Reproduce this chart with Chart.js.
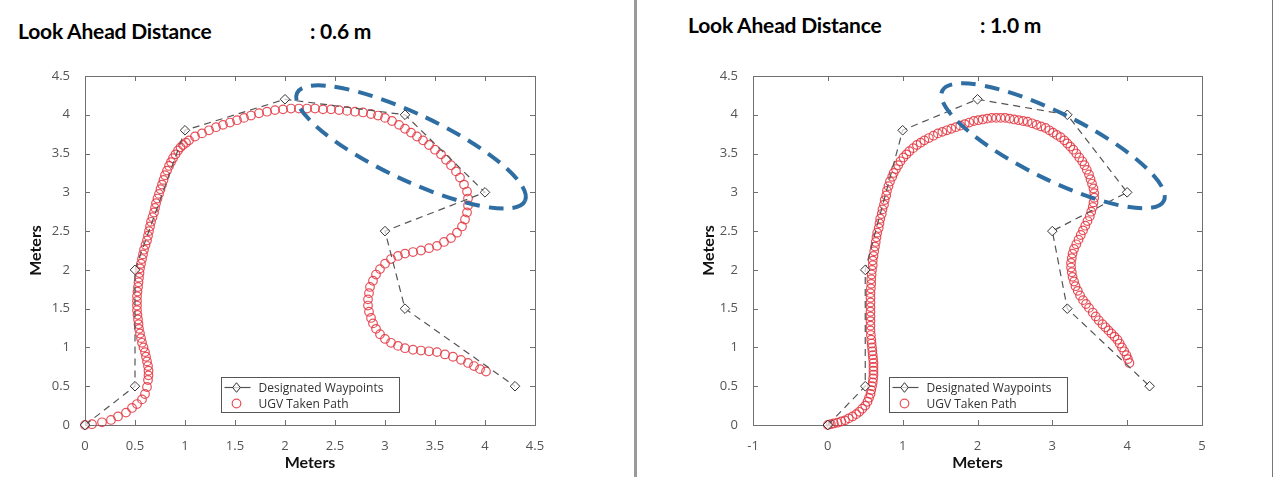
<!DOCTYPE html>
<html>
<head>
<meta charset="utf-8">
<script src="https://cdn.jsdelivr.net/npm/chart.js@4.4.1/dist/chart.umd.min.js"></script>
<style>
  body { margin: 0; background: #fff; width: 1279px; height: 477px; position: relative; overflow: hidden; }
  .title { position: absolute; font-family: Lato, 'Open Sans', sans-serif; font-weight: 700; font-size: 21px; color: #000; white-space: pre; line-height: 24px; letter-spacing: -0.2px; }
  canvas { position: absolute; top: 0; }
  .sep { position: absolute; top: 0; height: 477px; }
</style>
</head>
<body>
<div class="title" style="left:18px;top:19px">Look Ahead Distance</div>
<div class="title" style="left:310px;top:19px">: 0.6 m</div>
<div class="title" style="left:688px;top:13px">Look Ahead Distance</div>
<div class="title" style="left:980px;top:13px">: 1.0 m</div>

<canvas id="chartA" width="634" height="477" style="left:0"></canvas>
<canvas id="chartB" width="634" height="477" style="left:638px"></canvas>
<div class="sep" style="left:634px;width:3px;background:#9a9a9a"></div>
<div class="sep" style="left:1272px;width:1px;background:#777"></div>

<script>
// designated waypoints (same for both runs)
const waypointsX = [0, 0.5, 0.5, 1, 2, 3.2, 4, 3, 3.2, 4.3];
const waypointsY = [0, 0.5, 2, 3.8, 4.2, 4, 3, 2.5, 1.5, 0.5];

// UGV taken path, look ahead 0.6 m
const pathAX = [0, 0.07, 0.17, 0.26, 0.33, 0.41, 0.47, 0.52, 0.57, 0.60, 0.62,
  0.63, 0.635, 0.635, 0.63, 0.62, 0.61, 0.60, 0.585, 0.57, 0.56, 0.55, 0.54, 0.535, 0.53, 0.525, 0.52, 0.52, 0.52, 0.52,
  0.525, 0.53, 0.535, 0.54, 0.545, 0.55, 0.56, 0.57, 0.58, 0.59, 0.605, 0.62, 0.63, 0.64, 0.65, 0.66, 0.675, 0.69, 0.70,
  0.71, 0.725, 0.74, 0.755, 0.77, 0.785, 0.80, 0.82, 0.84, 0.86, 0.88, 0.905, 0.93, 0.955, 0.98, 1.01, 1.04,
  1.10, 1.17, 1.24, 1.31, 1.38, 1.45, 1.52, 1.59, 1.66, 1.74, 1.82, 1.90, 1.98, 2.06, 2.14, 2.22, 2.30, 2.38, 2.46,
  2.54, 2.62, 2.70, 2.78, 2.86, 2.93, 3.00, 3.07, 3.14, 3.20, 3.26, 3.32, 3.38, 3.44, 3.50, 3.56, 3.61, 3.66, 3.71,
  3.75, 3.79, 3.82, 3.83, 3.83, 3.82, 3.80, 3.77, 3.72, 3.66, 3.59, 3.52, 3.44, 3.36, 3.28, 3.20, 3.13, 3.06, 3.00,
  2.95, 2.91, 2.88, 2.85, 2.84, 2.83, 2.83, 2.84, 2.86, 2.88, 2.91, 2.95, 3.00, 3.06, 3.13, 3.20, 3.28, 3.36, 3.44,
  3.52, 3.60, 3.68, 3.76, 3.83, 3.89, 3.95, 4.01];
const pathAY = [0, 0.01, 0.035, 0.065, 0.11, 0.16, 0.22, 0.27, 0.33, 0.40, 0.49,
  0.58, 0.64, 0.70, 0.76, 0.82, 0.88, 0.94, 1.00, 1.06, 1.12, 1.18, 1.24, 1.30, 1.36, 1.42, 1.48, 1.54, 1.60, 1.66,
  1.72, 1.78, 1.84, 1.90, 1.96, 2.02, 2.08, 2.14, 2.20, 2.26, 2.32, 2.38, 2.44, 2.50, 2.56, 2.62, 2.68, 2.74, 2.80,
  2.86, 2.92, 2.98, 3.04, 3.10, 3.16, 3.22, 3.28, 3.34, 3.39, 3.44, 3.49, 3.54, 3.58, 3.61, 3.64, 3.67,
  3.72, 3.76, 3.80, 3.84, 3.87, 3.90, 3.93, 3.96, 3.99, 4.02, 4.04, 4.06, 4.07, 4.08, 4.08, 4.08, 4.08, 4.07, 4.07,
  4.06, 4.05, 4.04, 4.03, 4.01, 3.99, 3.96, 3.92, 3.87, 3.82, 3.77, 3.72, 3.67, 3.61, 3.55, 3.49, 3.42, 3.35, 3.27,
  3.19, 3.10, 3.01, 2.92, 2.83, 2.74, 2.65, 2.56, 2.48, 2.41, 2.36, 2.31, 2.28, 2.25, 2.23, 2.21, 2.18, 2.14, 2.08,
  2.01, 1.94, 1.86, 1.78, 1.70, 1.62, 1.54, 1.46, 1.38, 1.31, 1.24, 1.17, 1.11, 1.06, 1.02, 0.99, 0.97, 0.96, 0.95,
  0.94, 0.91, 0.88, 0.84, 0.80, 0.76, 0.72, 0.69];

// UGV taken path, look ahead 1.0 m
const pathBX = [0.00, 0.04, 0.08, 0.13, 0.18, 0.23, 0.28, 0.33, 0.38, 0.42, 0.46, 0.50, 0.53, 0.55, 0.57, 0.58, 0.59,
  0.60, 0.605, 0.61, 0.61, 0.61, 0.61, 0.605, 0.60, 0.595, 0.59, 0.585, 0.58, 0.575, 0.57, 0.57, 0.57, 0.57, 0.57,
  0.57, 0.57, 0.57, 0.57, 0.575, 0.58, 0.58, 0.585, 0.59, 0.60, 0.60, 0.61, 0.62, 0.63, 0.64, 0.65, 0.66, 0.68, 0.69,
  0.70, 0.72, 0.73, 0.75, 0.76, 0.78, 0.79, 0.81, 0.83, 0.86, 0.88, 0.91, 0.94, 0.97, 1.01, 1.05, 1.09, 1.14, 1.19,
  1.24, 1.29, 1.35, 1.41, 1.47, 1.53, 1.59, 1.65, 1.71, 1.77, 1.83, 1.89, 1.95, 2.01, 2.07, 2.13, 2.19, 2.25, 2.31,
  2.37, 2.43, 2.49, 2.55, 2.61, 2.67, 2.73, 2.79, 2.85, 2.91, 2.96, 3.01, 3.06, 3.11, 3.16, 3.20, 3.24, 3.28, 3.32,
  3.36, 3.40, 3.43, 3.46, 3.49, 3.51, 3.53, 3.55, 3.56, 3.56, 3.55, 3.54, 3.52, 3.50, 3.47, 3.44, 3.41, 3.38, 3.35,
  3.32, 3.29, 3.27, 3.26, 3.25, 3.25, 3.26, 3.27, 3.29, 3.31, 3.34, 3.37, 3.41, 3.45, 3.49, 3.54, 3.58, 3.62, 3.67,
  3.71, 3.75, 3.79, 3.83, 3.87, 3.90, 3.93, 3.96, 3.99, 4.01, 4.03];
const pathBY = [0.00, 0.01, 0.02, 0.03, 0.045, 0.06, 0.085, 0.11, 0.14, 0.17, 0.21, 0.25, 0.30, 0.35, 0.40, 0.45, 0.50,
  0.55, 0.60, 0.65, 0.70, 0.75, 0.80, 0.85, 0.90, 0.95, 1.00, 1.05, 1.10, 1.16, 1.22, 1.28, 1.34, 1.40, 1.46,
  1.52, 1.58, 1.64, 1.70, 1.76, 1.82, 1.88, 1.94, 2.00, 2.06, 2.12, 2.18, 2.24, 2.30, 2.36, 2.42, 2.48, 2.54, 2.60,
  2.66, 2.72, 2.78, 2.84, 2.90, 2.96, 3.02, 3.08, 3.14, 3.20, 3.25, 3.30, 3.35, 3.40, 3.45, 3.49, 3.53, 3.57, 3.61,
  3.64, 3.67, 3.70, 3.73, 3.76, 3.78, 3.80, 3.82, 3.84, 3.86, 3.88, 3.90, 3.92, 3.93, 3.94, 3.95, 3.96, 3.96, 3.96,
  3.96, 3.95, 3.94, 3.93, 3.92, 3.91, 3.89, 3.87, 3.85, 3.83, 3.80, 3.77, 3.74, 3.71, 3.67, 3.63, 3.59, 3.55, 3.50,
  3.45, 3.40, 3.35, 3.29, 3.23, 3.17, 3.11, 3.05, 2.99, 2.93, 2.87, 2.81, 2.75, 2.69, 2.63, 2.57, 2.51, 2.45, 2.39,
  2.33, 2.27, 2.21, 2.15, 2.09, 2.03, 1.97, 1.91, 1.85, 1.79, 1.73, 1.67, 1.61, 1.56, 1.51, 1.45, 1.40, 1.35, 1.30,
  1.26, 1.22, 1.18, 1.14, 1.10, 1.05, 1.00, 0.95, 0.90, 0.85, 0.80];

// axis ranges
const xRangeA = [0, 4.5, 0.5];
const xRangeB = [-1, 5, 1];
const yRange = [0, 4.5, 0.5];

// highlighted region (major axis end points, x1 y1 x2 y2)
const highlightA = [2.12, 4.28, 4.40, 2.89];
const highlightB = [1.53, 4.31, 4.49, 2.89];

const toPts = (xs, ys) => xs.map((x, i) => ({ x, y: ys[i] }));

// MATLAB style box with inward ticks
const boxTicks = {
  id: 'boxTicks',
  beforeDatasetsDraw(chart) {
    const { ctx, chartArea: a, scales } = chart;
    const L = 5;
    ctx.save();
    ctx.strokeStyle = '#707070';
    ctx.lineWidth = 1;
    ctx.strokeRect(Math.round(a.left) + 0.5, Math.round(a.top) + 0.5, Math.round(a.width), Math.round(a.height));
    ctx.beginPath();
    scales.x.ticks.forEach(t => {
      const p = Math.round(scales.x.getPixelForValue(t.value)) + 0.5;
      ctx.moveTo(p, a.bottom); ctx.lineTo(p, a.bottom - L);
      ctx.moveTo(p, a.top); ctx.lineTo(p, a.top + L);
    });
    scales.y.ticks.forEach(t => {
      const p = Math.round(scales.y.getPixelForValue(t.value)) + 0.5;
      ctx.moveTo(a.left, p); ctx.lineTo(a.left + L, p);
      ctx.moveTo(a.right, p); ctx.lineTo(a.right - L, p);
    });
    ctx.stroke();
    ctx.restore();
  }
};

// dashed blue ellipse around the corner region
const highlight = {
  id: 'highlight',
  afterDatasetsDraw(chart, args, o) {
    if (!o.axis) return;
    const { ctx, scales } = chart;
    const [x1, y1, x2, y2] = o.axis;
    const p1x = scales.x.getPixelForValue(x1), p1y = scales.y.getPixelForValue(y1);
    const p2x = scales.x.getPixelForValue(x2), p2y = scales.y.getPixelForValue(y2);
    const rx = Math.hypot(p2x - p1x, p2y - p1y) / 2;
    const rot = Math.atan2(p2y - p1y, p2x - p1x);
    ctx.save();
    ctx.strokeStyle = '#2f6ea3';
    ctx.lineWidth = 4;
    ctx.setLineDash([15, 9]);
    ctx.beginPath();
    ctx.ellipse((p1x + p2x) / 2, (p1y + p2y) / 2, rx, o.halfWidth, rot, 0, Math.PI * 2);
    ctx.stroke();
    ctx.restore();
  }
};

// legend box inside the plot
const boxLegend = {
  id: 'boxLegend',
  afterDraw(chart, args, o) {
    const { ctx, chartArea: a } = chart;
    const left = Math.round(a.left + o.offsetX) + 0.5;
    const top = Math.round(a.bottom - o.offsetBottom - o.height) + 0.5;
    ctx.save();
    ctx.fillStyle = '#fff';
    ctx.fillRect(left, top, o.width, o.height);
    ctx.strokeStyle = '#555';
    ctx.lineWidth = 1;
    ctx.strokeRect(left, top, o.width, o.height);
    chart.data.datasets.forEach((ds, i) => {
      const cy = top + 10 + i * 16;
      const cx = left + 15;
      if (ds.showLine) {
        ctx.strokeStyle = ds.borderColor;
        ctx.lineWidth = ds.borderWidth;
        ctx.beginPath();
        ctx.moveTo(left + 3, cy); ctx.lineTo(left + 29, cy);
        ctx.stroke();
      }
      ctx.fillStyle = ds.pointBackgroundColor;
      ctx.strokeStyle = ds.pointBorderColor;
      ctx.lineWidth = ds.pointBorderWidth;
      const r = ds.pointRadius;
      ctx.beginPath();
      if (ds.pointStyle === 'rectRot') {
        ctx.moveTo(cx, cy - r); ctx.lineTo(cx + r * 0.8, cy); ctx.lineTo(cx, cy + r); ctx.lineTo(cx - r * 0.8, cy); ctx.closePath();
      } else {
        ctx.arc(cx, cy, r, 0, Math.PI * 2);
      }
      ctx.fill();
      ctx.stroke();
      ctx.fillStyle = '#333';
      ctx.font = '12px "Open Sans"';
      ctx.textBaseline = 'middle';
      ctx.fillText(ds.label, left + 37, cy + 1);
    });
    ctx.restore();
  }
};

const plainTick = v => String(Math.round(v * 10) / 10);

function makePathChart(id, pathX, pathY, xRange, yAxisWidth, yTitlePad, padRight, ellipse) {
  const tickFont = { family: 'Open Sans', size: 13 };
  return new Chart(document.getElementById(id), {
    type: 'scatter',
    data: {
      datasets: [{
        label: 'Designated Waypoints',
        data: toPts(waypointsX, waypointsY),
        showLine: true,
        borderColor: '#555',
        borderWidth: 1.2,
        borderDash: [7, 5],
        pointStyle: 'rectRot',
        pointRadius: 4.8,
        pointBackgroundColor: 'rgba(255,255,255,0.7)',
        pointBorderColor: '#333',
        pointBorderWidth: 1,
        clip: false
      }, {
        label: 'UGV Taken Path',
        data: toPts(pathX, pathY),
        pointStyle: 'circle',
        pointRadius: 4.3,
        pointBackgroundColor: 'rgba(255,255,255,0)',
        pointBorderColor: 'rgba(226,52,62,0.85)',
        pointBorderWidth: 1.2,
        clip: false
      }]
    },
    options: {
      responsive: false,
      animation: false,
      devicePixelRatio: 1,
      layout: { padding: { left: 0, right: padRight, top: 76, bottom: 0 } },
      plugins: {
        legend: { display: false },
        tooltip: { enabled: false },
        highlight: { axis: ellipse, halfWidth: 33 },
        boxLegend: { offsetX: 136, offsetBottom: 13, width: 178, height: 35 }
      },
      scales: {
        x: {
          type: 'linear', min: xRange[0], max: xRange[1],
          grid: { display: false },
          border: { display: false },
          ticks: { stepSize: xRange[2], color: '#555', font: tickFont, padding: 5, maxRotation: 0, callback: plainTick },
          title: { display: true, text: 'Meters', color: '#111', font: { family: 'Lato', size: 16, weight: 'bold' }, padding: { bottom: 5 } },
          afterFit(s) { s.height = 52; }
        },
        y: {
          type: 'linear', min: yRange[0], max: yRange[1],
          grid: { display: false },
          border: { display: false },
          ticks: { stepSize: yRange[2], color: '#555', font: tickFont, padding: 7, callback: plainTick },
          title: { display: true, text: 'Meters', color: '#111', font: { family: 'Lato', size: 16, weight: 'bold' }, padding: { top: yTitlePad } },
          afterFit(s) { s.width = yAxisWidth; }
        }
      }
    },
    plugins: [boxTicks, highlight, boxLegend]
  });
}

makePathChart('chartA', pathAX, pathAY, xRangeA, 85, 26, 99, highlightA);
makePathChart('chartB', pathBX, pathBY, xRangeB, 115, 61, 70, highlightB);
</script>
</body>
</html>
